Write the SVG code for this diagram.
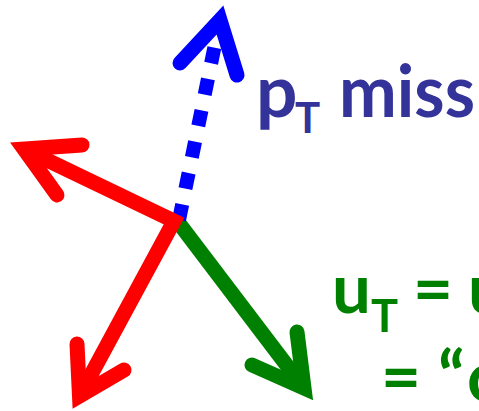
<svg xmlns="http://www.w3.org/2000/svg" width="479" height="411" viewBox="0 0 479 411">
<style>
.lbl{font-family:Lato,"Open Sans","Liberation Sans",sans-serif;font-weight:700}
.blue-t{fill:#333399}
.green-t{fill:#008000}
.shaft{fill:none;stroke-width:15;stroke-linejoin:miter;stroke-miterlimit:10}
.head{fill:none;stroke-width:15;stroke-linecap:round;stroke-linejoin:miter;stroke-miterlimit:10}
.red{stroke:#FF0000}
.green{stroke:#008000}
.blue{stroke:#0000FF}
.dash{fill:none;stroke-width:14;stroke-dasharray:16 16;stroke-linecap:butt}
</style>
<rect width="479" height="411" fill="#FFFFFF"/>
<g id="connectors">
  <g id="arrow-recoil">
    <line class="shaft green" x1="178" y1="222" x2="304" y2="388"/>
    <polyline class="head green" points="297,332 304,388 252,365"/>
  </g>
  <g id="arrow-ptmiss">
    <line class="dash blue" x1="179" y1="220" x2="220" y2="20"/>
    <polyline class="head blue" points="180,63 220,20 237,75"/>
  </g>
  <g id="arrow-leptons">
    <polyline class="shaft red" points="24,149 174,221 79.5,396"/>
    <polyline class="head red" points="82,145 24,149 57,195"/>
    <polyline class="head red" points="77,344 79.5,396 124,370"/>
  </g>
</g>
<g id="label-ptmiss" class="lbl blue-t">
  <text y="117" font-size="73"><tspan x="256">p</tspan><tspan x="295" y="133" font-size="42">T</tspan><tspan x="339" y="117" textLength="136" lengthAdjust="spacingAndGlyphs">miss</tspan></text>
</g>
<g id="label-ut" class="lbl green-t">
  <text y="313" font-size="69"><tspan x="332">u</tspan><tspan x="371" y="332" font-size="45">T</tspan><tspan x="413" y="313">=</tspan><tspan x="468">u</tspan></text>
  <text y="401" font-size="69"><tspan x="381">=</tspan><tspan x="438">“</tspan><tspan x="467">c</tspan></text>
</g>
</svg>
